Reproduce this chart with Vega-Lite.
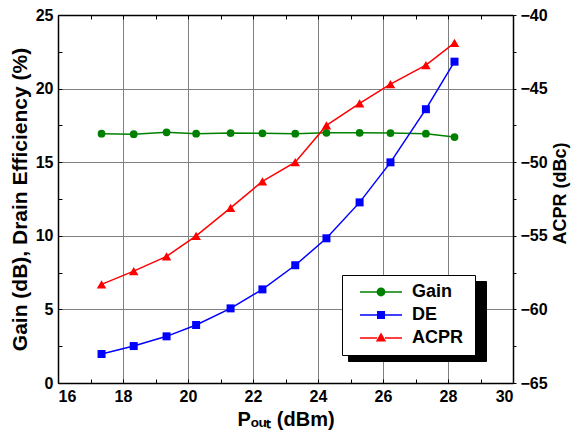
{
  "$schema": "https://vega.github.io/schema/vega-lite/v6.json",
  "width": 455,
  "height": 368,
  "autosize": {"type": "none"},
  "padding": {"left": 58, "top": 15, "right": 58, "bottom": 54},
  "background": "white",
  "config": {
    "font": "Liberation Sans",
    "view": {"stroke": null},
    "axis": {
      "labelFont": "Liberation Sans",
      "labelFontWeight": "bold",
      "labelFontSize": 16,
      "labelColor": "black",
      "titleFont": "Liberation Sans",
      "titleFontWeight": "bold",
      "titleFontSize": 20,
      "titleColor": "black",
      "domainColor": "black",
      "domainWidth": 1.5,
      "tickColor": "black",
      "tickWidth": 1,
      "gridColor": "#808080",
      "gridWidth": 1
    },
    "legend": {
      "labelFont": "Liberation Sans",
      "labelFontWeight": "bold",
      "labelFontSize": 18,
      "labelColor": "black",
      "titleFont": "Liberation Sans",
      "titleFontWeight": "bold",
      "titleFontSize": 18,
      "direction": "vertical"
    }
  },
  "data": {
    "values": [
      {"series": "Gain", "p": 17.34, "v": 16.94},
      {"series": "Gain", "p": 18.33, "v": 16.9},
      {"series": "Gain", "p": 19.34, "v": 17.03},
      {"series": "Gain", "p": 20.25, "v": 16.94},
      {"series": "Gain", "p": 21.31, "v": 16.98},
      {"series": "Gain", "p": 22.29, "v": 16.96},
      {"series": "Gain", "p": 23.3, "v": 16.94},
      {"series": "Gain", "p": 24.26, "v": 17.0},
      {"series": "Gain", "p": 25.28, "v": 17.0},
      {"series": "Gain", "p": 26.23, "v": 16.98},
      {"series": "Gain", "p": 27.32, "v": 16.94},
      {"series": "Gain", "p": 28.2, "v": 16.71},
      {"series": "DE", "p": 17.34, "v": 1.97},
      {"series": "DE", "p": 18.33, "v": 2.51},
      {"series": "DE", "p": 19.34, "v": 3.17},
      {"series": "DE", "p": 20.25, "v": 3.94},
      {"series": "DE", "p": 21.31, "v": 5.07},
      {"series": "DE", "p": 22.29, "v": 6.36},
      {"series": "DE", "p": 23.3, "v": 8.0},
      {"series": "DE", "p": 24.26, "v": 9.83},
      {"series": "DE", "p": 25.28, "v": 12.27},
      {"series": "DE", "p": 26.23, "v": 14.99},
      {"series": "DE", "p": 27.32, "v": 18.6},
      {"series": "DE", "p": 28.2, "v": 21.83},
      {"series": "ACPR", "p": 17.34, "v": -58.3},
      {"series": "ACPR", "p": 18.33, "v": -57.4},
      {"series": "ACPR", "p": 19.34, "v": -56.4},
      {"series": "ACPR", "p": 20.25, "v": -55.0},
      {"series": "ACPR", "p": 21.31, "v": -53.1},
      {"series": "ACPR", "p": 22.29, "v": -51.3},
      {"series": "ACPR", "p": 23.3, "v": -50.0},
      {"series": "ACPR", "p": 24.26, "v": -47.5},
      {"series": "ACPR", "p": 25.28, "v": -46.0},
      {"series": "ACPR", "p": 26.23, "v": -44.7},
      {"series": "ACPR", "p": 27.32, "v": -43.4},
      {"series": "ACPR", "p": 28.2, "v": -41.9}
    ]
  },
  "layer": [
    {
      "encoding": {
        "x": {
          "field": "p", "type": "quantitative",
          "scale": {"domain": [16, 30], "nice": false, "zero": false},
          "axis": {
            "orient": "bottom",
            "title": "Pₒᵤₜ (dBm)",
            "values": [16,17,18,19,20,21,22,23,24,25,26,27,28,29,30],
            "labelExpr": "datum.value % 2 === 0 ? datum.label : ''",
            "grid": true,
            "gridOpacity": {"condition": {"test": "datum.value % 2 === 0", "value": 1}, "value": 0},
            "tickSize": -4,
            "labelPadding": 9,
            "titlePadding": 5
          }
        },
        "y": {
          "field": "v", "type": "quantitative",
          "scale": {"domain": [0, 25], "nice": false, "zero": false},
          "axis": {
            "orient": "left",
            "title": "Gain (dB), Drain Efficiency (%)",
            "titleFontSize": 21,
            "values": [0,2.5,5,7.5,10,12.5,15,17.5,20,22.5,25],
            "labelExpr": "datum.value % 5 === 0 ? datum.label : ''",
            "grid": true,
            "gridOpacity": {"condition": {"test": "datum.value % 5 === 0", "value": 1}, "value": 0},
            "tickSize": -4,
            "labelPadding": 9,
            "titlePadding": 5
          }
        }
      },
      "layer": [
        {
          "transform": [{"filter": "datum.series === 'Gain'"}],
          "mark": {"type": "line", "color": "#008000", "strokeWidth": 1.5}
        },
        {
          "transform": [{"filter": "datum.series === 'Gain'"}],
          "mark": {"type": "point", "shape": "circle", "filled": true, "color": "#008000", "size": 60, "opacity": 1}
        },
        {
          "transform": [{"filter": "datum.series === 'DE'"}],
          "mark": {"type": "line", "color": "#0000ff", "strokeWidth": 1.5}
        },
        {
          "transform": [{"filter": "datum.series === 'DE'"}],
          "mark": {"type": "point", "shape": "square", "filled": true, "color": "#0000ff", "size": 64, "opacity": 1}
        },
        {
          "transform": [{"filter": "false"}],
          "mark": {"type": "point", "filled": true, "opacity": 1},
          "encoding": {
            "fill": {
              "field": "series", "type": "nominal",
              "scale": {"domain": ["g", "d", "a"], "range": ["black", "black", "black"]},
              "legend": {
                "orient": "none", "legendX": 290, "legendY": 266,
                "direction": "vertical",
                "title": null,
                "labelExpr": "'\u00a0'",
                "labelColor": "black",
                "fillColor": "black", "strokeColor": "black",
                "symbolType": "square",
                "symbolSize": 64,
                "symbolOffset": 22,
                "labelOffset": 82,
                "rowPadding": 5,
                "padding": 8,
                "zindex": 1
              }
            }
          }
        },
        {
          "transform": [{"filter": "false"}],
          "mark": {"type": "point", "filled": true, "opacity": 1},
          "encoding": {
            "color": {
              "field": "series", "type": "nominal",
              "scale": {"domain": ["Gain", "DE", "ACPR"], "range": ["#008000", "#0000ff", "#ff0000"]},
              "legend": {
                "orient": "none", "legendX": 284, "legendY": 260,
                "direction": "vertical",
                "title": "\u00a0\u00a0\u00a0",
                "titleOrient": "right",
                "titlePadding": 4,
                "fillColor": "white", "strokeColor": "black",
                "symbolSize": 64,
                "symbolOffset": 22,
                "labelOffset": 22,
                "rowPadding": 5,
                "padding": 8,
                "zindex": 2
              }
            },
            "shape": {
              "field": "series", "type": "nominal",
              "scale": {
                "domain": ["Gain", "DE", "ACPR"],
                "range": [
                  "M-5.25,-0.19H-1V0.19H-5.25Z M1,-0.19H5.25V0.19H1Z M1.1,0A1.1,1.1 0 1,1 -1.1,0A1.1,1.1 0 1,1 1.1,0Z",
                  "M-5.25,-0.19H-1V0.19H-5.25Z M1,-0.19H5.25V0.19H1Z M-1,-1H1V1H-1Z",
                  "M-5.25,-0.19H-1V0.19H-5.25Z M1,-0.19H5.25V0.19H1Z M0,-1.35L1.3,0.9L-1.3,0.9Z"
                ]
              },
              "legend": {
                "orient": "none", "legendX": 284, "legendY": 260,
                "direction": "vertical",
                "title": "\u00a0\u00a0\u00a0",
                "titleOrient": "right",
                "titlePadding": 4,
                "zindex": 2
              }
            }
          }
        }
      ]
    },
    {
      "encoding": {
        "x": {
          "field": "p", "type": "quantitative",
          "scale": {"domain": [16, 30], "nice": false, "zero": false},
          "axis": {
            "orient": "top",
            "title": null,
            "values": [16,17,18,19,20,21,22,23,24,25,26,27,28,29,30],
            "labels": false,
            "grid": false,
            "tickSize": -4
          }
        },
        "y": {
          "field": "v", "type": "quantitative",
          "scale": {"domain": [-65, -40], "nice": false, "zero": false},
          "axis": {
            "orient": "right",
            "title": "ACPR (dBc)",
            "titleAngle": 270,
            "titleFontSize": 18,
            "titleX": 47,
            "titleY": 178,
            "titleAlign": "center",
            "titleBaseline": "middle",
            "values": [-65,-62.5,-60,-57.5,-55,-52.5,-50,-47.5,-45,-42.5,-40],
            "labelExpr": "datum.value % 5 === 0 ? datum.label : ''",
            "grid": false,
            "tickSize": 3,
            "labelPadding": 4
          }
        }
      },
      "layer": [
        {
          "transform": [{"filter": "datum.series === 'ACPR'"}],
          "mark": {"type": "line", "color": "#ff0000", "strokeWidth": 1.5}
        },
        {
          "transform": [{"filter": "datum.series === 'ACPR'"}],
          "mark": {"type": "point", "shape": "triangle-up", "filled": true, "color": "#ff0000", "size": 90, "opacity": 1}
        }
      ]
    }
  ],
  "resolve": {"scale": {"y": "independent"}, "axis": {"x": "independent", "y": "independent"}}
}
